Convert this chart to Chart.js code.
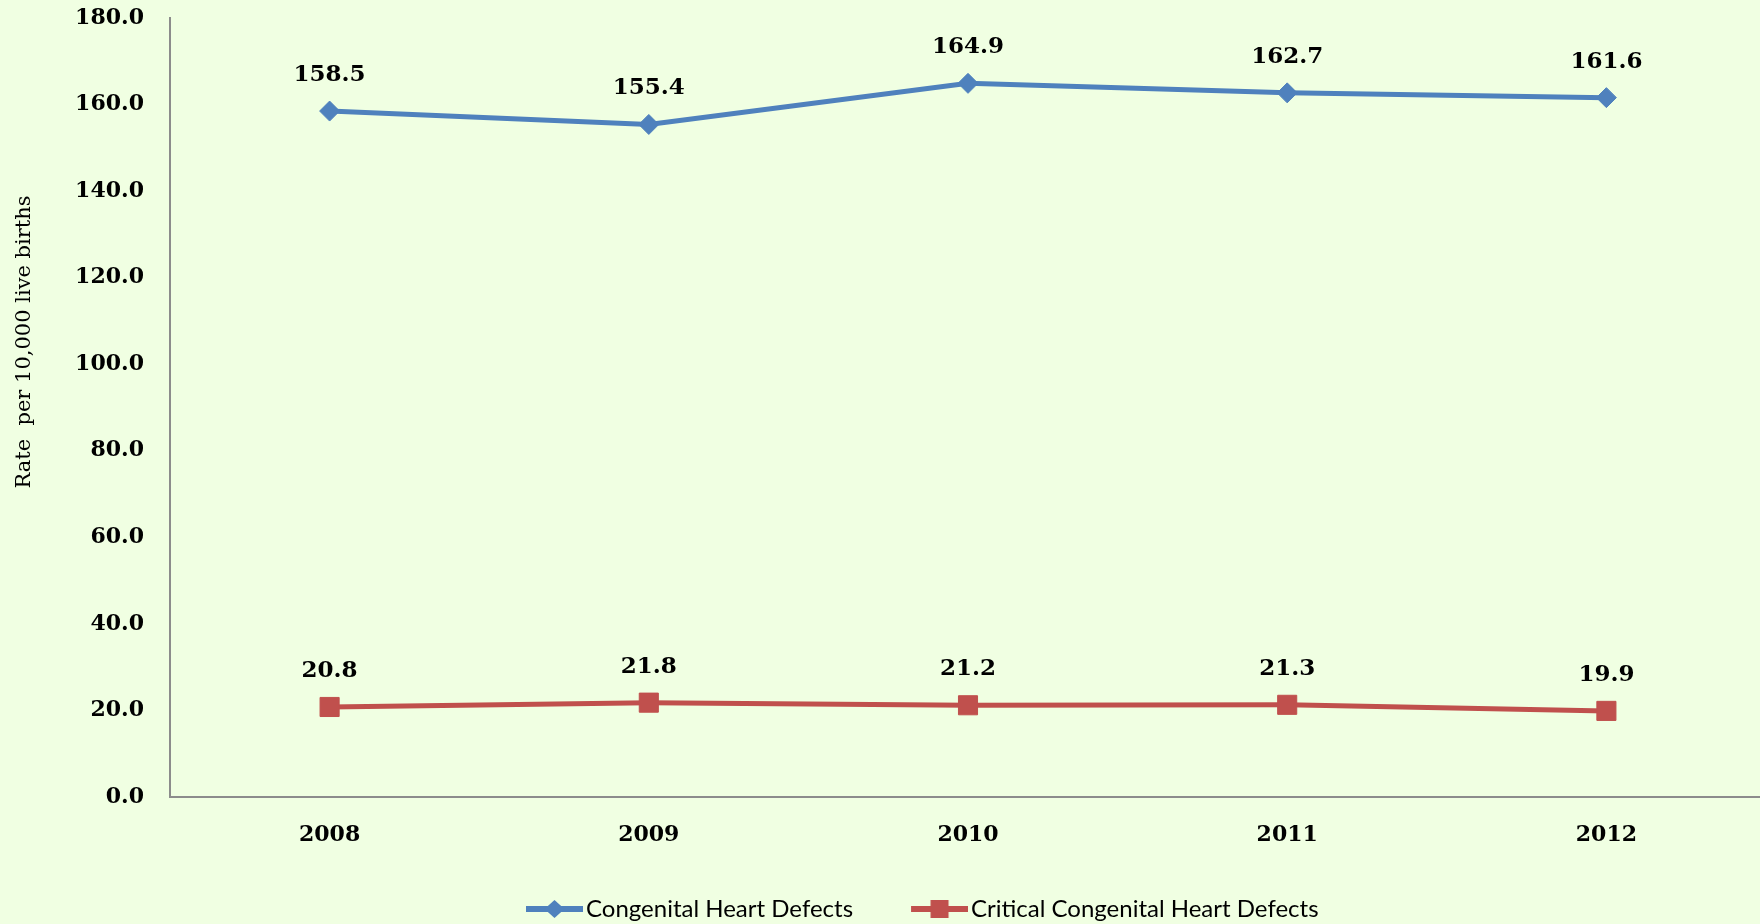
<!DOCTYPE html>
<html>
<head>
<meta charset="utf-8">
<script src="https://cdn.jsdelivr.net/npm/chart.js@4.4.0/dist/chart.umd.min.js"></script>
<style>
  html, body { margin: 0; padding: 0; overflow: hidden; background: #F0FFE2; }
  canvas { display: block; }
</style>
</head>
<body>
<canvas id="chdChart" width="1766" height="924"></canvas>
<script>
// Data
const years = ['2008', '2009', '2010', '2011', '2012'];
const chdRates = [158.5, 155.4, 164.9, 162.7, 161.6];
const cchdRates = [20.8, 21.8, 21.2, 21.3, 19.9];
const yTickValues = [0, 20, 40, 60, 80, 100, 120, 140, 160, 180];
const seriesNames = ['Congenital Heart Defects', 'Critical Congenital Heart Defects'];
const yTitle = 'Rate  per 10,000 live births';

const BLUE = '#4F81BD';
const RED = '#C0504D';
const labelFont = { family: '"DejaVu Serif", serif', weight: 'bold', size: 22 };

// line+marker picture for the legend; left part is left empty to space the items
function legendMarker(color, shape) {
  const c = document.createElement('canvas');
  c.width = 114; c.height = 20;
  const g = c.getContext('2d');
  g.fillStyle = color;
  g.fillRect(57, 7, 57, 6);
  if (shape === 'diamond') {
    g.beginPath();
    g.moveTo(85.5, 1); g.lineTo(95.5, 10); g.lineTo(85.5, 19); g.lineTo(75.5, 10);
    g.closePath();
    g.fill();
  } else {
    g.fillRect(76.5, 1, 18, 18);
  }
  return c;
}
const markers = [legendMarker(BLUE, 'diamond'), legendMarker(RED, 'square')];

// value labels above each point
const valueLabels = {
  id: 'valueLabels',
  afterDatasetsDraw(chart) {
    const ctx = chart.ctx;
    ctx.save();
    ctx.font = 'bold 23px "DejaVu Serif", serif';
    ctx.fillStyle = '#000';
    ctx.textAlign = 'center';
    ctx.textBaseline = 'middle';
    chart.data.datasets.forEach((ds, i) => {
      chart.getDatasetMeta(i).data.forEach((pt, j) => {
        ctx.fillText(ds.data[j].toFixed(1), pt.x, pt.y - 36);
      });
    });
    ctx.restore();
  }
};

// rotated y title, sits above the middle like in the original
const yTitlePlugin = {
  id: 'yTitle',
  afterDraw(chart) {
    const ctx = chart.ctx;
    ctx.save();
    ctx.translate(25, 342);
    ctx.rotate(-Math.PI / 2);
    ctx.font = '21px "DejaVu Serif", serif';
    ctx.fillStyle = '#000';
    ctx.textAlign = 'center';
    ctx.textBaseline = 'middle';
    ctx.fillText(yTitle, 0, 0);
    ctx.restore();
  }
};

// legend is not centred on the page in the original
const legendPlace = {
  id: 'legendPlace',
  afterLayout(chart) {
    chart.legend.left = 468;
    chart.legend.top = 887;
  }
};

const ctx = document.getElementById('chdChart').getContext('2d');
const chdChart = new Chart(ctx, {
    type: 'line',
    data: {
        labels: years,
        datasets: [{
            label: seriesNames[0],
            data: chdRates,
            borderColor: BLUE,
            backgroundColor: BLUE,
            borderWidth: 5,
            pointStyle: 'rectRot',
            pointRadius: 10,
            pointBorderWidth: 1,
            pointBorderColor: BLUE,
            pointBackgroundColor: BLUE,
            tension: 0
        }, {
            label: seriesNames[1],
            data: cchdRates,
            borderColor: RED,
            backgroundColor: RED,
            borderWidth: 5,
            pointStyle: 'rect',
            pointRadius: 13.5,
            pointBorderWidth: 1,
            pointBorderColor: RED,
            pointBackgroundColor: RED,
            tension: 0
        }]
    },
    options: {
        responsive: false,
        animation: false,
        events: [],
        layout: { autoPadding: false, padding: { top: 18 } },
        plugins: {
            tooltip: { enabled: false },
            legend: {
                position: 'bottom',
                align: 'start',
                labels: {
                    usePointStyle: true,
                    pointStyleWidth: 96,
                    padding: 10,
                    color: '#000',
                    font: { family: 'Lato, "Liberation Sans", sans-serif', size: 24 },
                    generateLabels: (chart) => chart.data.datasets.map((ds, i) => ({
                        text: ds.label,
                        pointStyle: markers[i],
                        fillStyle: ds.borderColor,
                        strokeStyle: ds.borderColor,
                        lineWidth: 0,
                        fontColor: '#000',
                        hidden: false,
                        datasetIndex: i
                    }))
                }
            }
        },
        scales: {
            x: {
                offset: true,
                grid: { display: false, drawTicks: false, tickLength: 0 },
                border: { display: true, color: '#8C8C8C', width: 2 },
                ticks: { color: '#000', font: labelFont, padding: 25 },
                afterFit: (s) => { s.height = 83; s.paddingLeft = 0; s.paddingRight = 0; }
            },
            y: {
                min: 0,
                max: 180,
                afterBuildTicks: (s) => { s.ticks = yTickValues.map(v => ({ value: v })); },
                grid: { display: false, drawTicks: false, tickLength: 0 },
                border: { display: true, color: '#8C8C8C', width: 2 },
                ticks: {
                    color: '#000',
                    font: labelFont,
                    padding: 26,
                    callback: (v) => Number(v).toFixed(1)
                },
                afterFit: (s) => { s.width = 170; s.paddingTop = 0; s.paddingBottom = 0; }
            }
        }
    },
    plugins: [valueLabels, yTitlePlugin, legendPlace]
});
</script>
</body>
</html>
